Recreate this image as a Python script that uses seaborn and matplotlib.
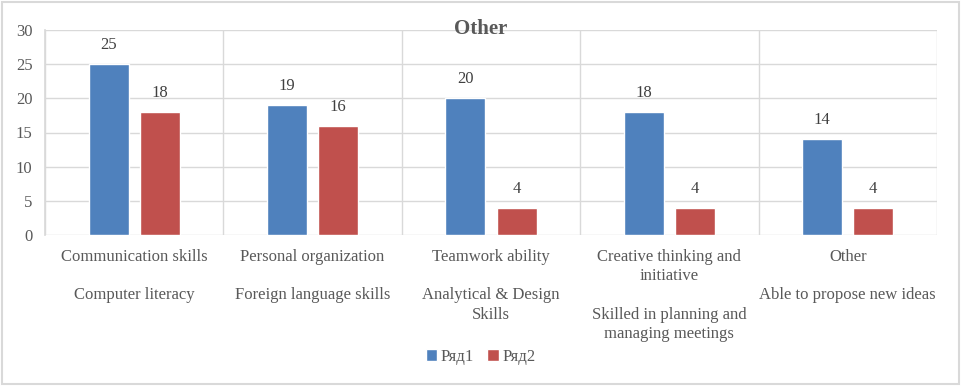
import numpy as np
import pandas as pd
import seaborn as sns
import matplotlib.pyplot as plt
from matplotlib.patches import Rectangle

#### Data
top_labels = ["Communication skills", "Personal organization", "Teamwork ability",
              "Creative thinking and\ninitiative", "Other"]
bottom_labels = ["Computer literacy", "Foreign language skills", "Analytical & Design\nSkills",
                 "Skilled in planning and\nmanaging meetings", "Able to propose new ideas"]
series1 = [25, 19, 20, 18, 14]
series2 = [18, 16, 4, 4, 4]
series_names = ["Ряд1", "Ряд2"]

categories = [t + "\n\n" + b for t, b in zip(top_labels, bottom_labels)]
df = pd.DataFrame({
    "category": categories * 2,
    "value": series1 + series2,
    "series": [series_names[0]] * 5 + [series_names[1]] * 5,
})

#### Style
sns.set_theme(style="white")
plt.rcParams['font.family'] = ['Liberation Serif', 'DejaVu Serif']
text_col = "#595959"
grid_col = "#D9D9D9"
palette = {"Ряд1": "#4F81BD", "Ряд2": "#C0504D"}

fig = plt.figure(figsize=(9.61, 3.86), dpi=100)
ax = fig.add_axes([45 / 961, 1 - 235 / 386, (937 - 45) / 961, (235 - 30) / 386])

sns.barplot(data=df, x="category", y="value", hue="series", palette=palette,
            width=0.572, gap=0.216, saturation=1, ax=ax, legend=True)

# data labels
for cont in ax.containers:
    ax.bar_label(cont, padding=8, fontsize=12, color="#404040")

ax.set_xlim(-0.5, 4.5)
ax.set_ylim(0, 30)
ax.set_yticks(np.arange(0, 31, 5))
ax.set_xticks(np.arange(-0.5, 5, 1), minor=True)
ax.grid(axis="y", which="major", color=grid_col, lw=1)
ax.grid(axis="x", which="minor", color=grid_col, lw=1)
ax.set_axisbelow(True)
for s in ax.spines.values():
    s.set_visible(False)
ax.spines["left"].set_visible(True)
ax.spines["left"].set_color(grid_col)
ax.tick_params(axis="both", which="both", length=0, labelsize=12, labelcolor=text_col)
ax.tick_params(axis="y", pad=9)
ax.tick_params(axis="x", pad=10)
for lbl in ax.get_xticklabels():
    lbl.set_linespacing(1.27)
ax.set_xlabel("")
ax.set_ylabel("")

fig.text(0.5, 1 - 29 / 386, "Other", ha="center", va="center",
         fontsize=15, fontweight="bold", color=text_col)

leg = ax.legend(loc="center", bbox_to_anchor=(0.5, 1 - 357 / 386), bbox_transform=fig.transFigure,
                ncol=2, frameon=False, fontsize=12, handlelength=0.7, handleheight=0.7,
                handletextpad=0.2, columnspacing=0.8, labelcolor=text_col)

fig.patches.append(Rectangle((2 / 961, 2 / 386), 957 / 961, 382 / 386, transform=fig.transFigure,
                             fill=False, edgecolor=grid_col, lw=1.5))

fig.savefig("out.png", dpi=100)
